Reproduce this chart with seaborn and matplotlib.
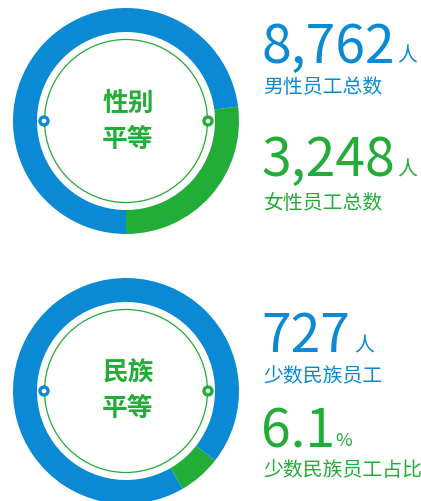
import matplotlib
matplotlib.use("Agg")
import matplotlib.pyplot as plt
from matplotlib.patches import Circle
import seaborn as sns

# --- data -------------------------------------------------------------
gender_labels = ["女性", "男性"]
gender_counts = [3248, 8762]          # female, male
minority_count = 727
minority_share = 6.1                  # percent
ethnic_shares = [minority_share, 100 - minority_share]   # minority, others

male_text = "8,762"
female_text = "3,248"
minority_text = "727"
share_text = "6.1"

# --- style ------------------------------------------------------------
sns.set_theme(style="white")
plt.rcParams["font.family"] = ["Noto Sans CJK SC", "DejaVu Sans"]

BLUE = "#0A8AD5"
GREEN = "#22AC38"
palette = sns.color_palette([GREEN, BLUE])

W, H = 421, 501
fig = plt.figure(figsize=(W / 100, H / 100), dpi=100)
ax = fig.add_axes([0, 0, 1, 1])


def Y(y):
    """Convert a top-origin pixel row into the axes' y coordinate."""
    return H - y


def donut(values, cx, cy, start, title_top, title_bottom):
    ax.pie(values, colors=palette, startangle=start, counterclock=True,
           radius=113, center=(cx, Y(cy)),
           wedgeprops=dict(width=24, linewidth=0, edgecolor="none"))
    # thin inner ring with two small knobs
    ax.add_patch(Circle((cx, Y(cy)), 81.5, fill=False, ec=GREEN, lw=0.9))
    ax.add_patch(Circle((cx - 82, Y(cy)), 4.0, fc="white", ec=BLUE, lw=2.4, zorder=5))
    ax.add_patch(Circle((cx + 82, Y(cy)), 4.0, fc="white", ec=GREEN, lw=2.4, zorder=5))
    ax.text(cx + 2, Y(cy - 18), title_top, color=GREEN, fontsize=18.5,
            fontweight="bold", ha="center", va="center")
    ax.text(cx + 2, Y(cy + 18), title_bottom, color=GREEN, fontsize=18.5,
            fontweight="bold", ha="center", va="center")


donut(gender_counts, 126, 121, 270, "性别", "平等")
donut(ethnic_shares, 126, 391, 300, "民族", "平等")

BIG = 38.5
LBL = 14.3

# gender figures
ax.text(261, Y(63), male_text, color=BLUE, fontsize=BIG, va="baseline")
ax.text(397, Y(61.5), "人", color=BLUE, fontsize=LBL, va="baseline")
ax.text(263, Y(92.5), "男性员工总数", color=BLUE, fontsize=LBL, va="baseline")

ax.text(261, Y(176), female_text, color=GREEN, fontsize=BIG, va="baseline")
ax.text(397, Y(175.5), "人", color=GREEN, fontsize=LBL, va="baseline")
ax.text(263, Y(208.5), "女性员工总数", color=GREEN, fontsize=LBL, va="baseline")

# ethnic figures
ax.text(261, Y(352), minority_text, color=BLUE, fontsize=BIG, va="baseline")
ax.text(354, Y(351.5), "人", color=BLUE, fontsize=LBL, va="baseline")
ax.text(263, Y(381.5), "少数民族员工", color=BLUE, fontsize=LBL, va="baseline")

ax.text(261, Y(447), share_text, color=GREEN, fontsize=BIG, va="baseline")
ax.text(335, Y(446.5), "%", color=GREEN, fontsize=13, va="baseline")
ax.text(263, Y(475.5), "少数民族员工占比", color=GREEN, fontsize=LBL, va="baseline")

ax.set_xlim(0, W)
ax.set_ylim(0, H)
ax.set_aspect("equal")
ax.axis("off")

fig.savefig("out.png", dpi=100, facecolor="white")
